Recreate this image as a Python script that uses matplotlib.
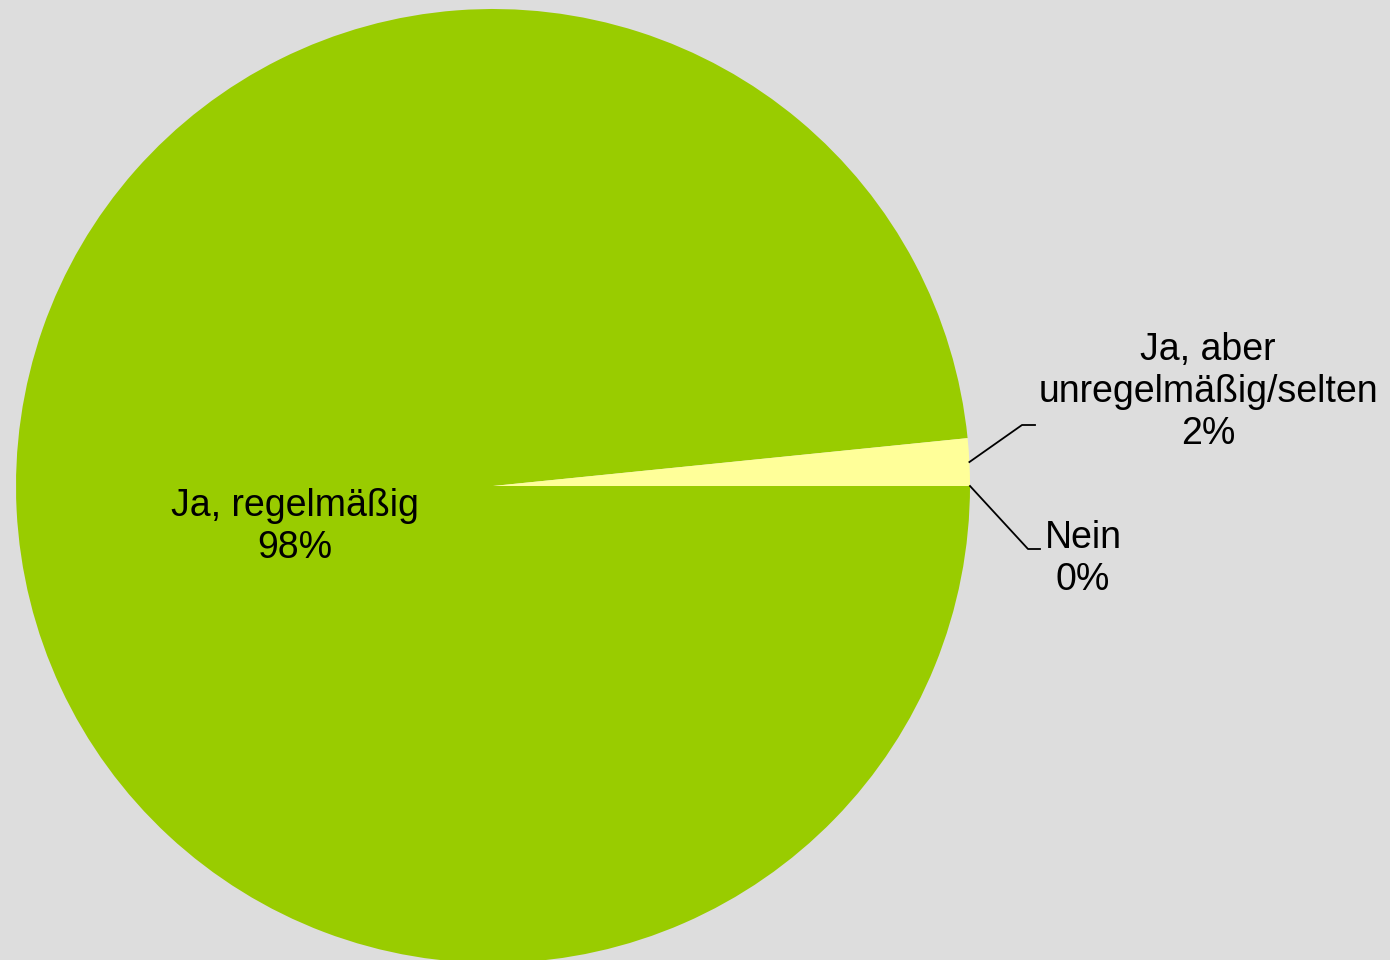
import numpy as np
import matplotlib.pyplot as plt

plt.rcParams['font.family'] = ['Liberation Sans', 'DejaVu Sans']

# Antworten und Anteile (%)
labels = ['Nein', 'Ja, regelmäßig', 'Ja, aber\nunregelmäßig/selten']
values = [0.0, 98.4, 1.6]
colors = ['#FFFF99', '#99CC00', '#FFFF99']

bg = '#DDDDDD'
fig = plt.figure(figsize=(13.9, 9.6), dpi=100, facecolor=bg)
ax = fig.add_axes([0, 0, 1, 1])
ax.set_facecolor(bg)

cx, cy, r = 493, 474, 477
wedges, _ = ax.pie(values, colors=colors, startangle=0, counterclock=False,
                   center=(cx, cy), radius=r, frame=True,
                   wedgeprops=dict(linewidth=0))
ax.set_xlim(0, 1390)
ax.set_ylim(0, 960)
ax.set_aspect('equal')
ax.axis('off')

fs = 27
ls = 1.22
# Hauptlabel im Kreis
ax.text(295, 960 - 527, f'{labels[1]}\n{round(values[1]):.0f}%', ha='center',
        va='center', fontsize=fs, linespacing=ls)

# Labels mit Führungslinien
def edge_point(w):
    a = np.deg2rad((w.theta1 + w.theta2) / 2)
    return cx + r * np.cos(a), cy + r * np.sin(a)

# Ja, aber unregelmäßig/selten
x0, y0 = edge_point(wedges[2])
ax.plot([x0, 1022, 1035], [y0, 960 - 425, 960 - 425], color='black', lw=1.3)
ax.text(1208, 960 - 392, f'{labels[2]}\n{round(values[2]):.0f}%', ha='center',
        va='center', fontsize=fs, linespacing=ls)

# Nein
x0, y0 = edge_point(wedges[0])
ax.plot([x0, 1028, 1040], [y0, 960 - 549, 960 - 549], color='black', lw=1.3)
ax.text(1083, 960 - 559, f'{labels[0]}\n{round(values[0]):.0f}%', ha='center',
        va='center', fontsize=fs, linespacing=ls)

fig.savefig('out.png', dpi=100, facecolor=bg)
